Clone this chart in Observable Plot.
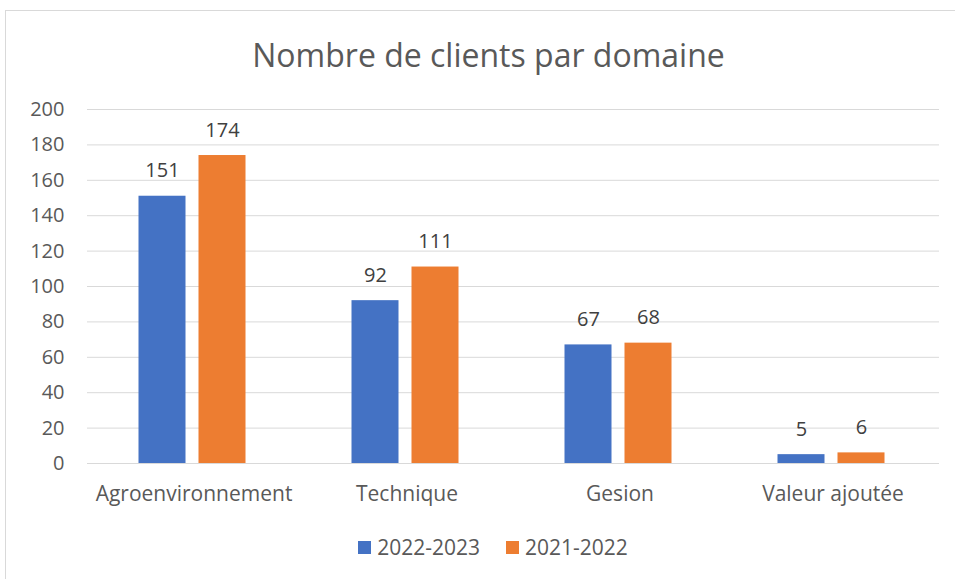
<!DOCTYPE html>
<html>
<head>
<meta charset="utf-8">
<script src="https://cdn.jsdelivr.net/npm/d3@7"></script>
<script src="https://cdn.jsdelivr.net/npm/@observablehq/plot@0.6"></script>
<style>
  html, body { margin: 0; padding: 0; background: #fff; width: 955px; height: 579px; overflow: hidden; }
  #frame { position: absolute; left: 5px; top: 10px; width: 1000px; height: 620px; border: 1px solid #d9d9d9; box-sizing: border-box; }
  #title { position: absolute; left: 0; top: 33px; width: 977px; text-align: center; font-family: "Open Sans", sans-serif; font-size: 32px; color: #595959; }
  #chart { position: absolute; left: 0; top: 85px; }
  #legend { position: absolute; left: 0; top: 533px; width: 986px; display: flex; justify-content: center; gap: 26px; font-family: "Open Sans", sans-serif; font-size: 21px; color: #595959; }
  .item { display: flex; align-items: center; gap: 6px; }
  .sw { width: 13px; height: 13px; display: inline-block; }
</style>
</head>
<body>
<div id="frame"></div>
<div id="title">Nombre de clients par domaine</div>
<div id="chart"></div>
<div id="legend"></div>
<script>
const categories = ["Agroenvironnement", "Technique", "Gesion", "Valeur ajoutée"];
const series = ["2022-2023", "2021-2022"];
const values2022_2023 = [151, 92, 67, 5];
const values2021_2022 = [174, 111, 68, 6];
const yTicks = [0, 20, 40, 60, 80, 100, 120, 140, 160, 180, 200];
const colors = ["#4472C4", "#ED7D31"];

const data = [];
categories.forEach((c, i) => {
  data.push({cat: c, series: series[0], value: values2022_2023[i]});
  data.push({cat: c, series: series[1], value: values2021_2022[i]});
});

const chart = Plot.plot({
  width: 955,
  height: 440,
  marginLeft: 85,
  marginRight: 15,
  marginTop: 24,
  marginBottom: 62,
  style: {fontFamily: "'Open Sans', sans-serif", fontSize: "20px", color: "#595959", background: "transparent", overflow: "visible"},
  fx: {domain: categories, padding: 0, label: null},
  x: {domain: series, paddingInner: 0.213, paddingOuter: 0.86, axis: null},
  y: {domain: [0, 200], label: null},
  color: {domain: series, range: colors},
  marks: [
    Plot.gridY(yTicks, {stroke: "#d9d9d9", strokeOpacity: 1, strokeWidth: 1}),
    Plot.axisY(yTicks, {tickSize: 0, tickPadding: 23, label: null, fill: "#595959", fontSize: 20}),
    Plot.barY(data, {fx: "cat", x: "series", y: "value", fill: "series", dx: -1.5}),
    Plot.text(data, {fx: "cat", x: "series", y: "value", text: d => String(d.value), lineAnchor: "bottom", dy: -19, dx: -1.5, fill: "#404040", fontSize: 20}),
    Plot.axisFx({anchor: "bottom", tickSize: 0, tickPadding: 23, label: null, fill: "#595959", fontSize: 21})
  ]
});
document.getElementById("chart").appendChild(chart);

const legend = document.getElementById("legend");
series.forEach((s, i) => {
  const item = document.createElement("div");
  item.className = "item";
  const sw = document.createElement("span");
  sw.className = "sw";
  sw.style.background = colors[i];
  const label = document.createElement("span");
  label.textContent = s;
  item.appendChild(sw);
  item.appendChild(label);
  legend.appendChild(item);
});
</script>
</body>
</html>
